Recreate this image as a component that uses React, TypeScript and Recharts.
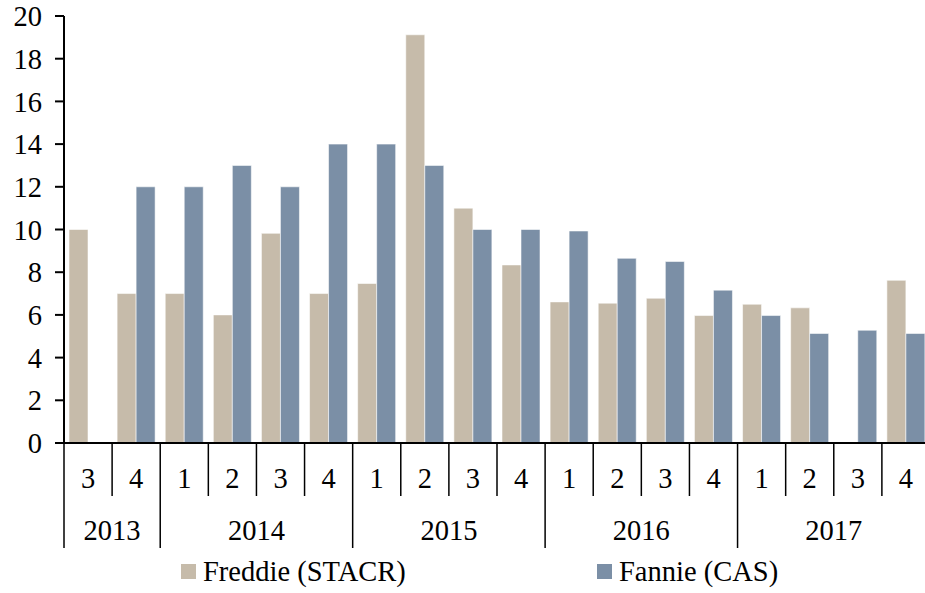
import { BarChart, Bar, XAxis, YAxis } from 'recharts';

const quarters = ['3', '4', '1', '2', '3', '4', '1', '2', '3', '4', '1', '2', '3', '4', '1', '2', '3', '4'];
const years = [
  '2013', '2013',
  '2014', '2014', '2014', '2014',
  '2015', '2015', '2015', '2015',
  '2016', '2016', '2016', '2016',
  '2017', '2017', '2017', '2017',
];
const freddie = [10, 7, 7, 6, 9.82, 7, 7.47, 19.12, 11, 8.34, 6.61, 6.55, 6.78, 5.97, 6.5, 6.33, null, 7.62];
const fannie = [null, 12, 12, 13, 12, 14, 14, 13, 10, 10, 9.93, 8.65, 8.5, 7.16, 5.97, 5.13, 5.28, 5.13];
const yTicks = [0, 2, 4, 6, 8, 10, 12, 14, 16, 18, 20];

const series = [
  { key: 'freddie', name: 'Freddie (STACR)', color: '#c6bbaa' },
  { key: 'fannie', name: 'Fannie (CAS)', color: '#7b8fa6' },
];

const data = quarters.map((q, i) => ({
  key: `${years[i]}-${q}-${i}`,
  freddie: freddie[i],
  fannie: fannie[i],
}));

const FONT = "'Times New Roman', Times, 'Liberation Serif', 'DejaVu Serif', serif";
const FS = 28.5;
const textStyle = { fontFamily: FONT, fontSize: FS };
const W = 930;
const H = 593;
const LEFT = 64;
const TOP = 16;
const XAXIS_H = 150;
const AXIS_Y = H - XAXIS_H;
const BAND = (W - LEFT) / quarters.length;

function QuarterTick(props: any) {
  const { x, payload } = props;
  const i = payload.index;
  const left = x - BAND / 2;
  const yearStart = i === 0 || years[i] !== years[i - 1];
  const isLast = i === quarters.length - 1;
  let yearLabel = null;
  if (yearStart) {
    const count = years.filter((y) => y === years[i]).length;
    yearLabel = (
      <text x={left + (count * BAND) / 2} y={AXIS_Y + 97} textAnchor="middle" style={textStyle} fill="#000">
        {years[i]}
      </text>
    );
  }
  return (
    <g>
      <line x1={left} x2={left} y1={AXIS_Y} y2={AXIS_Y + (yearStart ? 105 : 53)} stroke="#000" strokeWidth={1.5} />
      {isLast && (
        <line x1={left + BAND} x2={left + BAND} y1={AXIS_Y} y2={AXIS_Y + 105} stroke="#000" strokeWidth={1.5} />
      )}
      <text x={x} y={AXIS_Y + 45} textAnchor="middle" style={textStyle} fill="#000">
        {quarters[i]}
      </text>
      {yearLabel}
    </g>
  );
}

function YTick(props: any) {
  const { x, y, payload } = props;
  return (
    <text x={x} y={y} dy="0.355em" textAnchor="end" style={textStyle} fill="#000">
      {payload.value}
    </text>
  );
}

const legendX = [181, 597];

export default function App() {
  return (
    <div style={{ position: 'absolute', left: 0, top: 0, width: 925, height: H, overflow: 'hidden', background: '#fff' }}>
      <BarChart
        width={W}
        height={H}
        data={data}
        margin={{ top: TOP, right: 0, left: 0, bottom: 0 }}
        barGap={0}
        barCategoryGap="10%"
      >
        <XAxis
          dataKey="key"
          height={XAXIS_H}
          interval={0}
          tickLine={false}
          axisLine={{ stroke: '#000', strokeWidth: 2 }}
          tick={<QuarterTick />}
        />
        <YAxis
          width={LEFT}
          domain={[0, 20]}
          ticks={yTicks}
          interval={0}
          tickSize={9}
          tickMargin={13}
          axisLine={{ stroke: '#000', strokeWidth: 2 }}
          tickLine={{ stroke: '#000', strokeWidth: 2 }}
          tick={<YTick />}
        />
        {series.map((s) => (
          <Bar
            key={s.key}
            dataKey={s.key}
            name={s.name}
            fill={s.color}
            barSize={19}
            stroke="#ffffff"
            strokeOpacity={0.55}
            strokeWidth={1}
            isAnimationActive={false}
          />
        ))}
      </BarChart>
      <svg style={{ position: 'absolute', left: 0, top: 550 }} width={925} height={43}>
        {series.map((s, i) => (
          <g key={s.key}>
            <rect x={legendX[i]} y={14} width={15} height={15} fill={s.color} />
            <text x={legendX[i] + 22} y={31} style={textStyle} fill="#000">
              {s.name}
            </text>
          </g>
        ))}
      </svg>
    </div>
  );
}
